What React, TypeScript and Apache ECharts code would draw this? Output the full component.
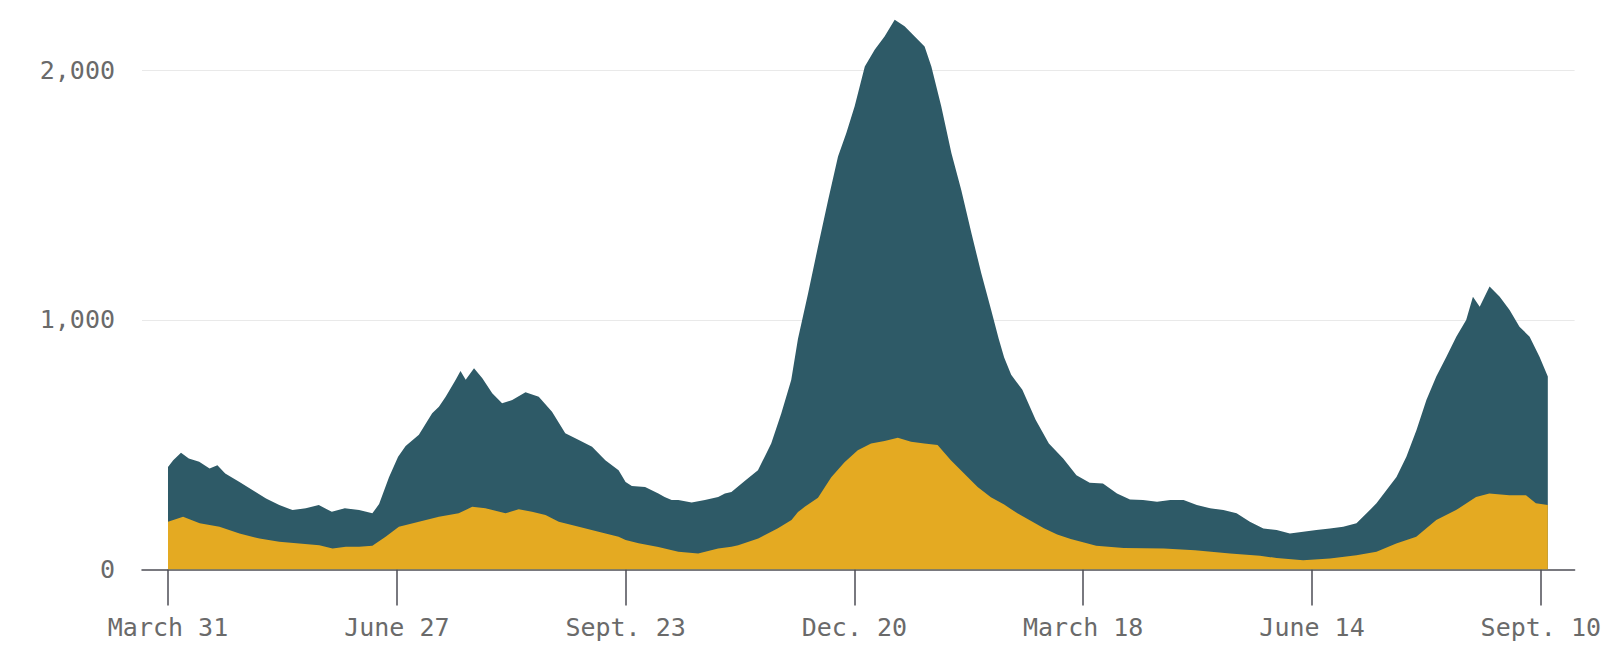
import React, { useEffect, useRef } from "react";
import * as echarts from "echarts";

// Day offsets from March 31 (day 0); ticks every 88 days
const tickDays = [0, 88, 176, 264, 352, 440, 528];
const tickLabels = ["March 31", "June 27", "Sept. 23", "Dec. 20", "March 18", "June 14", "Sept. 10"];
const yTicks = [0, 1000, 2000];

// Top of the dark (total) area
const totalDays = [
  0, 2, 5, 8, 12, 16, 19, 22, 27.5, 32.6, 37.7, 42.8, 47.9, 53, 58, 63, 68, 73.5, 78.6, 81.2,
  85, 88.5, 91.4, 96.5, 101.6, 104.2, 106.8, 110.6, 112.5, 114.5, 117.7, 120.9, 124.7, 128.5,
  132.4, 137.5, 142.6, 147.7, 152.8, 158, 163.1, 168.2, 173.3, 176, 178.4, 183.5, 188.6, 191,
  193.7, 196.3, 201.4, 206.5, 211.6, 214.2, 216.7, 221.8, 226.9, 229.5, 232, 235.9, 239.7,
  242.3, 246.2, 250, 253.9, 257.7, 260.9, 264.1, 268, 271.8, 275.6, 279.5, 283.3, 287.2, 291,
  293.6, 297.4, 301.3, 305.1, 309, 312.8, 316.6, 319.5, 321.6, 324.3, 328.6, 333.7, 338.8,
  344.3, 349.4, 354.5, 359.6, 365, 370, 375, 380.4, 385.5, 390.6, 395.7, 400.8, 405.9, 411,
  416.1, 421.3, 426.4, 431.5, 436.6, 441.7, 446.9, 452, 457.1, 461, 464.8, 468.6, 472.5,
  476.3, 480.2, 484, 487.8, 491.7, 495.5, 499.3, 501.9, 504.5, 508.3, 512.2, 516, 519.8,
  523.7, 527.5, 530.7,
];
const totalValues = [
  411, 438, 468, 445, 432, 405, 418, 385, 351, 318, 285, 258, 238, 245, 258, 231, 245, 238, 225, 262,
  370, 452, 495, 540, 626, 652, 692, 759, 795, 760, 806, 766, 706, 666,
  679, 710, 692, 632, 546, 519, 492, 438, 398, 351, 335, 331, 305, 291,
  278, 278, 268, 278, 291, 305, 311, 355, 398, 452, 505, 626, 759,
  925, 1107, 1294, 1481, 1655, 1749, 1856, 2016, 2083, 2136, 2203, 2177, 2136, 2096,
  2016, 1856, 1669, 1521, 1348, 1187, 1040, 925, 850, 780, 720, 600, 505,
  445, 378, 348, 345, 305, 280, 278, 271, 278, 278, 258, 245, 238, 225,
  191, 164, 158, 144, 151, 158, 164, 171, 185, 225, 265, 318, 371,
  452, 559, 679, 773, 853, 933, 1000, 1093, 1053, 1134, 1093, 1040, 973,
  933, 853, 773,
];

// Top of the yellow area
const yellowDays = [
  0, 5.8, 12.2, 19.8, 27.5, 35.2, 42.8, 50.5, 58.2, 63.3, 68.4, 73.5, 78.6, 83.7, 88.8, 96.5,
  104.2, 111.8, 117, 122.1, 129.8, 134.9, 140, 145.2, 150.3, 158, 165.6, 173.3, 176, 181,
  188.6, 196.3, 203.9, 211.6, 216.7, 219.3, 227, 234.6, 239.8, 242.3, 244.9, 250, 255.1,
  260.2, 265.3, 270.4, 275.6, 280.7, 285.8, 290.9, 296, 301.1, 306.2, 311.4, 316.5, 321.6,
  326.7, 331.8, 336.9, 342, 347.2, 352.3, 357, 367.6, 383, 395, 408.5, 420, 426.4, 436.6,
  446.9, 457.1, 464.8, 472.4, 480.1, 487.8, 495.4, 503.1, 508.2, 515.9, 522.3, 526.1, 530.7,
];
const yellowValues = [
  191, 211, 185, 171, 144, 124, 111, 104, 97, 84, 91, 91, 95, 131, 171, 191,
  211, 225, 251, 245, 225, 241, 231, 218, 191, 171, 151, 131, 118, 105,
  90, 71, 64, 84, 91, 97, 124, 165, 198, 230, 251, 288, 370,
  430, 478, 505, 515, 528, 512, 505, 499, 438, 385, 331, 290, 260,
  225, 195, 165, 140, 122, 108, 95, 86, 84, 77, 64, 55, 46, 37,
  44, 57, 71, 104, 131, 198, 238, 291, 305, 298, 298, 265, 258,
];

const zip = (xs: number[], ys: number[]) => xs.map((x, i) => [x, ys[i]]);

export default function App() {
  const ref = useRef<HTMLDivElement>(null);

  useEffect(() => {
    document.body.style.margin = "0";
    if (!ref.current) return;
    const chart = echarts.init(ref.current, undefined, { renderer: "svg" });
    const font = "DejaVu Sans Mono";
    chart.setOption({
      animation: false,
      backgroundColor: "#ffffff",
      grid: { left: 142, right: 26, top: 8, bottom: 76.5, containLabel: false },
      xAxis: {
        type: "value",
        min: -10,
        max: 541,
        splitLine: { show: false },
        axisLine: { show: true, lineStyle: { color: "#4d4d55", width: 1.5 } },
        axisTick: {
          show: true,
          customValues: tickDays,
          length: 36,
          lineStyle: { color: "#4d4d55", width: 1.5 },
        },
        axisLabel: {
          customValues: tickDays,
          margin: 45,
          color: "#6a6a6a",
          fontFamily: font,
          fontSize: 25,
          formatter: (v: number) => {
            const i = tickDays.indexOf(Math.round(v));
            return i >= 0 ? tickLabels[i] : "";
          },
        },
      },
      yAxis: {
        type: "value",
        min: 0,
        max: 2250,
        interval: 1000,
        axisLine: { show: false },
        axisTick: { show: false },
        splitLine: { show: true, showMinLine: false, showMaxLine: false, lineStyle: { color: "#e9e9e9", width: 1 } },
        axisLabel: {
          customValues: yTicks,
          margin: 27,
          color: "#6a6a6a",
          fontFamily: font,
          fontSize: 25,
          formatter: (v: number) => v.toLocaleString("en-US"),
        },
      },
      series: [
        {
          name: "Total",
          type: "line",
          data: zip(totalDays, totalValues),
          showSymbol: false,
          symbol: "none",
          lineStyle: { width: 0 },
          areaStyle: { color: "#2e5a67", opacity: 1 },
          itemStyle: { color: "#2e5a67" },
        },
        {
          name: "Yellow",
          type: "line",
          data: zip(yellowDays, yellowValues),
          showSymbol: false,
          symbol: "none",
          lineStyle: { width: 0 },
          areaStyle: { color: "#e4aa22", opacity: 1 },
          itemStyle: { color: "#e4aa22" },
        },
      ],
    });
    return () => chart.dispose();
  }, []);

  return <div ref={ref} style={{ width: 1604, height: 646 }} />;
}
